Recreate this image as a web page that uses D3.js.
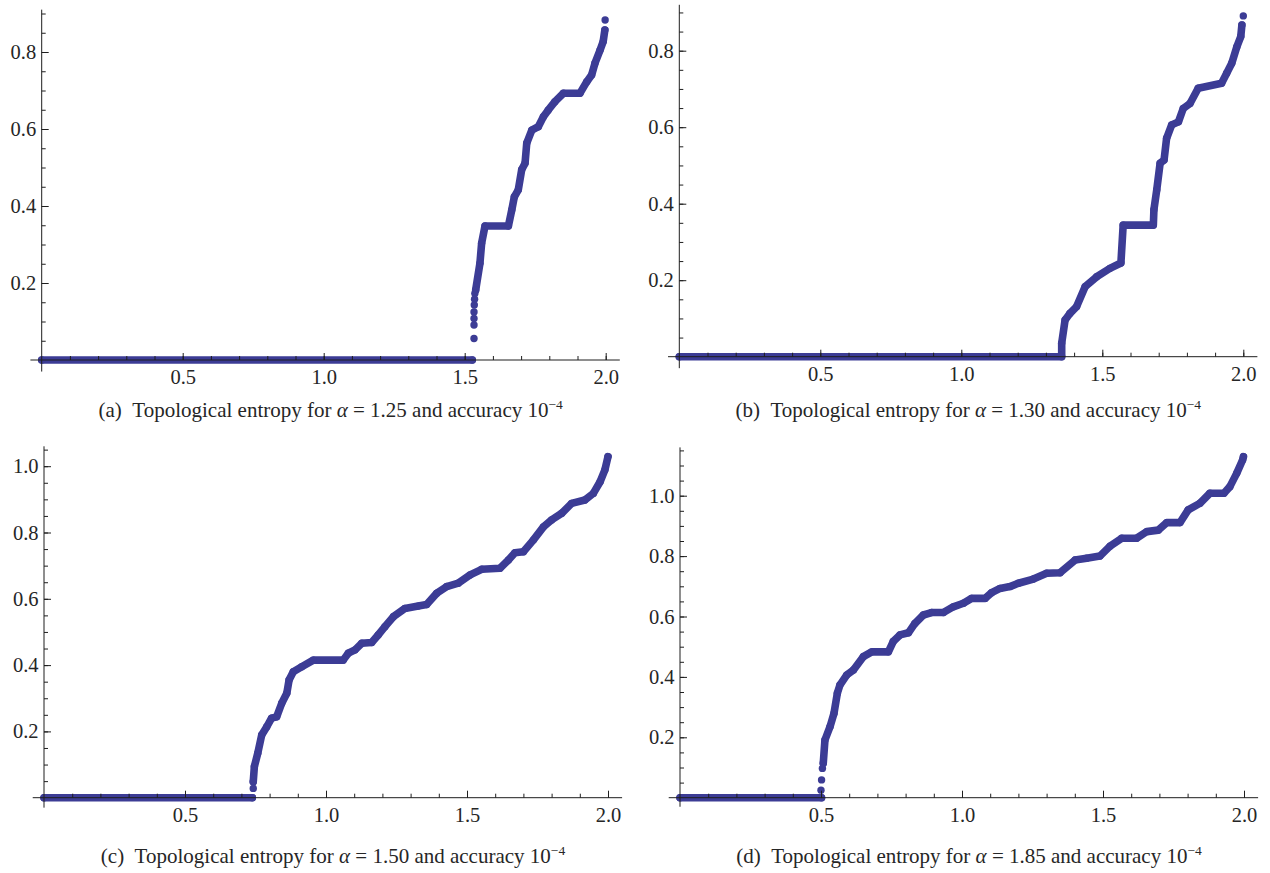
<!DOCTYPE html>
<html>
<head>
<meta charset="utf-8">
<script src="https://cdn.jsdelivr.net/npm/d3@7"></script>
<style>
  body { margin: 0; background: #fff; }
  svg text { font-family: "Liberation Serif", "DejaVu Serif", serif; fill: #262626; }
</style>
</head>
<body>
<svg id="chart" width="1270" height="873"></svg>
<script>
// Topological entropy as a function of the parameter, for four values of alpha.
const panelTags = ["(a)", "(b)", "(c)", "(d)"];
const alphaValues = ["1.25", "1.30", "1.50", "1.85"];
const accuracyExponent = "\u22124";

const xTickLabels = [0.5, 1.0, 1.5, 2.0];
const yTickLabelsTop = [0.2, 0.4, 0.6, 0.8];
const yTickLabelsBottom = [0.2, 0.4, 0.6, 0.8, 1.0];

// Continuous runs of samples; null separates runs.
const curveA = [[0, 0], [1.527, 0], null,
  [1.539, 0.182], [1.554, 0.251], [1.560, 0.303], [1.572, 0.348], [1.655, 0.348],
  [1.667, 0.390], [1.676, 0.424], [1.690, 0.442], [1.702, 0.494], [1.714, 0.511],
  [1.720, 0.563], [1.738, 0.597], [1.761, 0.606], [1.779, 0.632], [1.796, 0.649],
  [1.820, 0.671], [1.850, 0.693], [1.909, 0.693], [1.933, 0.723], [1.950, 0.740],
  [1.962, 0.771], [1.980, 0.805], [1.991, 0.827], [1.997, 0.857]];
const dotsA = [[1.533, 0.056], [1.533, 0.091], [1.533, 0.108], [1.533, 0.125],
  [1.534, 0.143], [1.535, 0.158], [1.536, 0.173], [1.998, 0.883]];

const curveB = [[0, 0], [1.356, 0], [1.356, 0.035], [1.368, 0.096], [1.385, 0.113],
  [1.409, 0.131], [1.439, 0.183], [1.480, 0.209], [1.527, 0.231], [1.566, 0.245],
  [1.574, 0.344], [1.681, 0.344], [1.683, 0.384], [1.693, 0.436], [1.705, 0.506],
  [1.719, 0.514], [1.728, 0.571], [1.746, 0.606], [1.770, 0.614], [1.787, 0.649],
  [1.811, 0.662], [1.840, 0.702], [1.923, 0.715], [1.941, 0.741], [1.959, 0.767],
  [1.977, 0.810], [1.991, 0.837], [1.995, 0.867]];
const dotsB = [[2.0, 0.891]];

const curveC = [[0, 0], [0.739, 0], null,
  [0.742, 0.048], [0.746, 0.094], [0.758, 0.134], [0.772, 0.189], [0.790, 0.214],
  [0.807, 0.240], [0.825, 0.244], [0.843, 0.285], [0.861, 0.315], [0.869, 0.355],
  [0.884, 0.380], [0.914, 0.395], [0.955, 0.415], [1.061, 0.415], [1.079, 0.436],
  [1.103, 0.446], [1.127, 0.466], [1.162, 0.468], [1.185, 0.491], [1.209, 0.516],
  [1.239, 0.546], [1.280, 0.571], [1.327, 0.578], [1.357, 0.583], [1.393, 0.617],
  [1.428, 0.637], [1.469, 0.647], [1.511, 0.672], [1.552, 0.689], [1.617, 0.692],
  [1.647, 0.717], [1.670, 0.739], [1.700, 0.742], [1.735, 0.777], [1.771, 0.817],
  [1.800, 0.838], [1.836, 0.858], [1.871, 0.888], [1.918, 0.898], [1.948, 0.918],
  [1.972, 0.953], [1.989, 0.989], [2.0, 1.029]];
const dotsC = [[0.742, 0.028]];

const curveD = [[0, 0], [0.502, 0], null,
  [0.508, 0.114], [0.514, 0.191], [0.532, 0.235], [0.546, 0.279], [0.558, 0.346],
  [0.567, 0.373], [0.591, 0.406], [0.615, 0.423], [0.650, 0.467], [0.680, 0.483],
  [0.739, 0.483], [0.756, 0.517], [0.780, 0.539], [0.810, 0.546], [0.833, 0.577],
  [0.863, 0.605], [0.892, 0.613], [0.934, 0.613], [0.969, 0.632], [1.005, 0.644],
  [1.034, 0.660], [1.082, 0.660], [1.105, 0.679], [1.135, 0.693], [1.170, 0.699],
  [1.200, 0.710], [1.253, 0.724], [1.300, 0.743], [1.348, 0.745], [1.401, 0.787],
  [1.442, 0.793], [1.489, 0.800], [1.525, 0.833], [1.566, 0.859], [1.619, 0.859],
  [1.655, 0.881], [1.696, 0.886], [1.726, 0.911], [1.773, 0.911], [1.802, 0.953],
  [1.844, 0.975], [1.879, 1.008], [1.929, 1.008], [1.950, 1.030], [1.974, 1.074],
  [1.995, 1.118], [1.998, 1.129]];
const dotsD = [[0.500, 0.025], [0.502, 0.059], [0.505, 0.097]];

// Layout of the four panels (pixel frames and axis extents).
const panels = [
  { curve: curveA, dots: dotsA, yTicks: yTickLabelsTop,
    xPx: [41.7, 605.7], yPx: [360, 52], yRef: 0.8, yTop: 0.91, capY: 417 },
  { curve: curveB, dots: dotsB, yTicks: yTickLabelsTop,
    xPx: [679.3, 1243.3], yPx: [356.7, 50.7], yRef: 0.8, yTop: 0.92, capY: 417 },
  { curve: curveC, dots: dotsC, yTicks: yTickLabelsBottom,
    xPx: [44, 608], yPx: [797.7, 466.2], yRef: 1.0, yTop: 1.06, capY: 863 },
  { curve: curveD, dots: dotsD, yTicks: yTickLabelsBottom,
    xPx: [680, 1244], yPx: [797.7, 495.7], yRef: 1.0, yTop: 1.16, capY: 863 }
];

const markColor = "#3c3c95";
const axisColor = "#1e1e1e";
const tickFont = 20.5;
const svg = d3.select("#chart");

panels.forEach((p, i) => {
  const x = d3.scaleLinear().domain([0, 2]).range(p.xPx);
  const y = d3.scaleLinear().domain([0, p.yRef]).range(p.yPx);
  const g = svg.append("g");

  // samples: thick run through consecutive points, plus a dot at each point
  const line = d3.line().defined(d => d !== null).x(d => x(d[0])).y(d => y(d[1]));
  g.append("path")
    .attr("d", line(p.curve))
    .attr("fill", "none")
    .attr("stroke", markColor)
    .attr("stroke-width", 7.6)
    .attr("stroke-linecap", "round")
    .attr("stroke-linejoin", "round");
  const pts = p.curve.filter(d => d !== null).concat(p.dots);
  g.selectAll("circle.pt").data(pts).join("circle")
    .attr("class", "pt")
    .attr("cx", d => x(d[0])).attr("cy", d => y(d[1]))
    .attr("r", 3.7).attr("fill", markColor);

  // axis lines through the origin
  g.append("line")
    .attr("x1", x(-0.04)).attr("x2", x(2.05))
    .attr("y1", y(0)).attr("y2", y(0))
    .attr("stroke", axisColor).attr("stroke-width", 1);
  g.append("line")
    .attr("x1", x(0)).attr("x2", x(0))
    .attr("y1", y(-0.03)).attr("y2", y(p.yTop))
    .attr("stroke", axisColor).attr("stroke-width", 1);

  // x ticks (inward), minor every 0.1
  const xMinor = d3.range(1, 21).map(k => k / 10);
  g.append("g").attr("transform", `translate(0,${y(0)})`)
    .call(d3.axisBottom(x).tickValues(xMinor).tickSize(-4).tickFormat(() => ""))
    .call(a => a.select(".domain").remove());
  g.append("g").attr("transform", `translate(0,${y(0)})`)
    .call(d3.axisBottom(x).tickValues(xTickLabels).tickSize(-7).tickPadding(9.5)
      .tickFormat(d3.format(".1f")))
    .attr("font-size", tickFont).attr("font-family", null)
    .call(a => a.select(".domain").remove());

  // y ticks (inward), minor every 0.05
  const yMinor = d3.range(1, Math.floor(p.yTop / 0.05 + 1e-6) + 1).map(k => k * 0.05);
  g.append("g").attr("transform", `translate(${x(0)},0)`)
    .call(d3.axisLeft(y).tickValues(yMinor).tickSize(-4).tickFormat(() => ""))
    .call(a => a.select(".domain").remove());
  g.append("g").attr("transform", `translate(${x(0)},0)`)
    .call(d3.axisLeft(y).tickValues(p.yTicks).tickSize(-7).tickPadding(5.5)
      .tickFormat(d3.format(".1f")))
    .attr("font-size", tickFont).attr("font-family", null)
    .call(a => a.select(".domain").remove());

  g.selectAll(".tick line").attr("stroke", axisColor);

  // caption
  const cap = g.append("text")
    .attr("x", (p.xPx[0] + p.xPx[1]) / 2 + 7)
    .attr("y", p.capY)
    .attr("text-anchor", "middle")
    .attr("font-size", 21);
  cap.append("tspan").text(panelTags[i] + "\u00a0\u00a0Topological entropy for ");
  cap.append("tspan").attr("font-style", "italic").text("\u03b1");
  cap.append("tspan").text(" = " + alphaValues[i] + " and accuracy 10");
  cap.append("tspan").attr("font-size", 13.5).attr("dy", -8.5).text(accuracyExponent);
});
</script>
</body>
</html>
